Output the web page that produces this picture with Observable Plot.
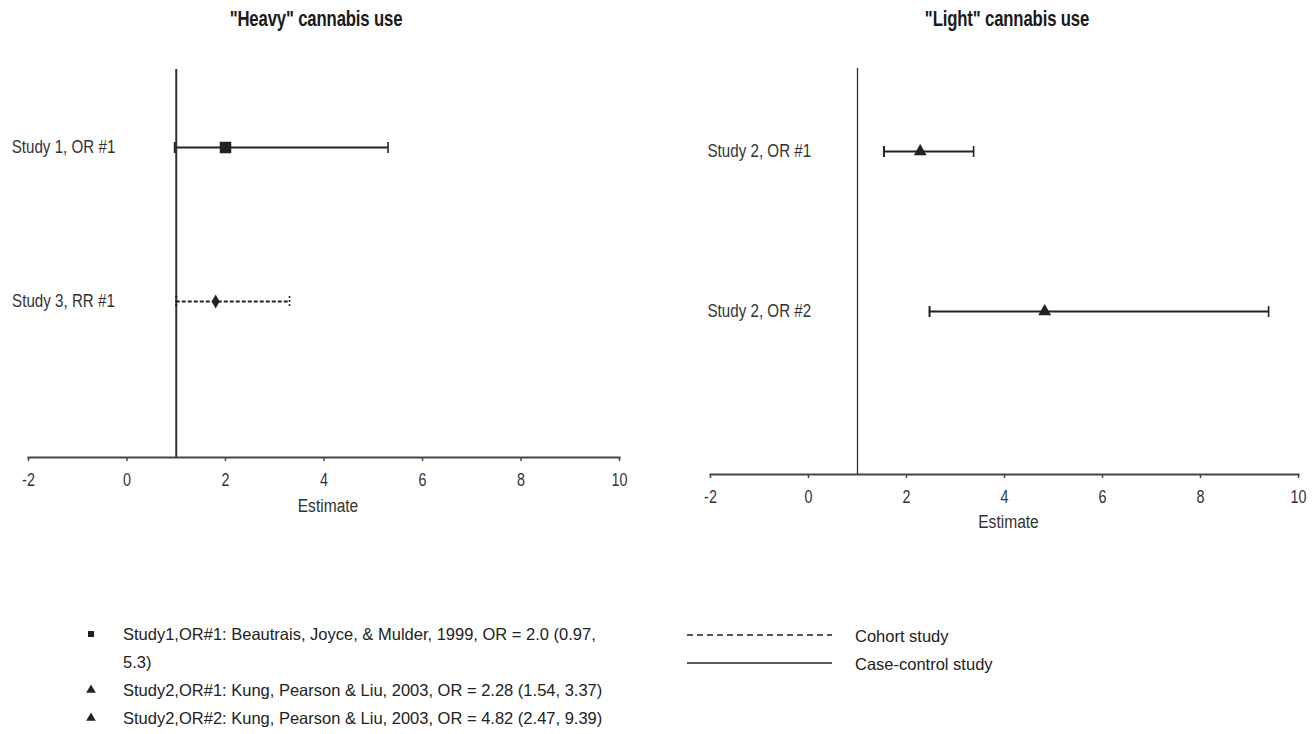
<!DOCTYPE html>
<html>
<head>
<meta charset="utf-8">
<script src="https://cdn.jsdelivr.net/npm/d3@7"></script>
<script src="https://cdn.jsdelivr.net/npm/@observablehq/plot@0.6"></script>
<style>
  html, body { margin: 0; padding: 0; background: #fff; }
  #root { position: relative; width: 1314px; height: 734px; overflow: hidden; font-family: "Liberation Sans", Arial, sans-serif; color: #222; }
  .title { font-family: "Liberation Sans", Arial, sans-serif; font-weight: bold; font-size: 22px; transform: translate(-50%, -50%) scaleX(0.76); white-space: nowrap; letter-spacing: -0.2px; color: #1a1a1a; }
  .leg { font-size: 16.5px; white-space: nowrap; transform: translateY(-50%); }
</style>
</head>
<body>
<div id="root"></div>
<script>
// ---------- data ----------
const heavyLabels = ["Study 1, OR #1", "Study 3, RR #1"];
const heavyEst    = [2.0, 1.8];
const heavyLo     = [0.97, 1.0];
const heavyHi     = [5.3, 3.3];
const heavyDesign = ["Case-control", "Cohort"];
const heavySymbol = ["square", "diamond"];

const lightLabels = ["Study 2, OR #1", "Study 2, OR #2"];
const lightEst    = [2.28, 4.82];
const lightLo     = [1.54, 2.47];
const lightHi     = [3.37, 9.39];
const lightDesign = ["Case-control", "Case-control"];
const lightSymbol = ["triangle", "triangle"];

const xTicks = [-2, 0, 2, 4, 6, 8, 10];
const xDomain = [-2, 10];
const nullValue = [1];

const legendLines = [
  ["square", "Study1,OR#1: Beautrais, Joyce, & Mulder, 1999, OR = 2.0 (0.97,"],
  [null, "5.3)"],
  ["triangle", "Study2,OR#1: Kung, Pearson & Liu, 2003, OR = 2.28 (1.54, 3.37)"],
  ["triangle", "Study2,OR#2: Kung, Pearson & Liu, 2003, OR = 4.82 (2.47, 9.39)"]
];
const designLegend = [["Cohort", "Cohort study"], ["Case-control", "Case-control study"]];

// ---------- helpers ----------
const ink = "#222";
const markerSize = { square: 6.5, diamond: 4.2, triangle: 4.8 };
const capSymbol = { draw(ctx, size) { const h = Math.sqrt(size / Math.PI); ctx.moveTo(0, -h); ctx.lineTo(0, h); } };
const tickStrings = new Set(xTicks.map(String));

function rows(labels, est, lo, hi, design, symbol) {
  return labels.map((label, i) => ({ label, est: est[i], lo: lo[i], hi: hi[i], design: design[i], symbol: symbol[i] }));
}

// emulate a narrow face: squeeze each SVG text horizontally around its anchor
function narrowText(svg, k) {
  svg.querySelectorAll("text").forEach(t => {
    if (tickStrings.has(t.textContent.trim())) t.style.fontSize = "17.5px";
    const tr = t.getAttribute("transform");
    if (tr) t.setAttribute("transform", tr + ` scale(${k},1)`);
    else {
      const x = parseFloat(t.getAttribute("x")) || 0;
      t.setAttribute("transform", `translate(${x},0) scale(${k},1) translate(${-x},0)`);
    }
  });
  return svg;
}

function forest(data, cfg) {
  const solid = data.filter(d => d.design !== "Cohort");
  const dashed = data.filter(d => d.design === "Cohort");
  const caps = (arr, dash) => [
    Plot.dot(arr, { x: "lo", y: "label", symbol: () => capSymbol, r: 5.5, fill: "none", stroke: ink, strokeWidth: 2, strokeDasharray: dash }),
    Plot.dot(arr, { x: "hi", y: "label", symbol: () => capSymbol, r: 5.5, fill: "none", stroke: ink, strokeWidth: 1.6, strokeDasharray: dash })
  ];
  const svg = Plot.plot({
    width: cfg.width, height: cfg.height,
    marginTop: cfg.mt, marginBottom: cfg.mb, marginLeft: cfg.ml, marginRight: cfg.mr,
    style: { fontFamily: `"Liberation Sans", Arial, sans-serif`, fontSize: "16px", color: ink, background: "transparent", overflow: "visible" },
    x: { domain: xDomain, ticks: xTicks, tickFormat: d => String(d), label: null },
    y: { type: "point", domain: data.map(d => d.label), padding: cfg.pad, align: cfg.align, axis: null },
    r: { type: "identity" },
    symbol: { type: "identity" },
    marks: [
      Plot.frame({ anchor: "bottom", stroke: "#444", strokeWidth: 2 }),
      Plot.axisX({ ticks: xTicks, tickFormat: d => String(d), tickSize: 4, tickPadding: 12, stroke: "#444", strokeWidth: 1.5, fill: "#333", label: null }),
      Plot.ruleX(nullValue, { stroke: "#333", strokeWidth: cfg.refWidth }),
      Plot.ruleY(solid, { y: "label", x1: "lo", x2: "hi", stroke: ink, strokeWidth: 2 }),
      Plot.ruleY(dashed, { y: "label", x1: "lo", x2: "hi", stroke: ink, strokeWidth: 2, strokeDasharray: "4,2" }),
      ...caps(solid, null),
      ...caps(dashed, "2,2"),
      Plot.dot(data, { x: "est", y: "label", symbol: "symbol", r: d => markerSize[d.symbol], fill: ink, stroke: "none" }),
      Plot.text(data, { y: "label", text: "label", frameAnchor: "left", textAnchor: cfg.labelAnchor, dx: cfg.labelDx, fontSize: 18.5, fill: "#333" }),
      Plot.text(["Estimate"], { text: d => d, frameAnchor: "bottom", dy: cfg.estDy, dx: 4, fontSize: 19, fill: "#333", lineAnchor: "middle" })
    ]
  });
  return narrowText(svg, 0.82);
}

// ---------- layout ----------
const root = document.getElementById("root");
function place(el, left, top) { el.style.position = "absolute"; el.style.left = left + "px"; el.style.top = top + "px"; root.appendChild(el); return el; }

place(forest(rows(heavyLabels, heavyEst, heavyLo, heavyHi, heavyDesign, heavySymbol),
  { width: 657, height: 530, mt: 69, mb: 73, ml: 28, mr: 38, pad: 0.752, align: 0.335, refWidth: 2, labelAnchor: "middle", labelDx: 35, estDy: 48 }), 0, 0);

place(forest(rows(lightLabels, lightEst, lightLo, lightHi, lightDesign, lightSymbol),
  { width: 657, height: 545, mt: 68, mb: 71, ml: 53, mr: 16, pad: 0.761, align: 0.339, refWidth: 1.3, labelAnchor: "start", labelDx: -3, estDy: 47 }), 657, 0);

function title(text, cx) {
  const d = document.createElement("div");
  d.className = "title"; d.textContent = text;
  place(d, cx, 19);
}
title('"Heavy" cannabis use', 316);
title('"Light" cannabis use', 1007);

// study legend (bottom-left)
const symPath = { square: d3.symbol(d3.symbolSquare, 36)(), triangle: d3.symbol(d3.symbolTriangle, 40)() };
legendLines.forEach(([sym, text], i) => {
  const y = 634 + i * 28;
  if (sym) {
    const s = document.createElementNS("http://www.w3.org/2000/svg", "svg");
    s.setAttribute("width", 14); s.setAttribute("height", 14);
    s.innerHTML = `<path transform="translate(7,7)" d="${symPath[sym]}" fill="${ink}"/>`;
    place(s, 84, y - 7);
  }
  const t = document.createElement("div");
  t.className = "leg"; t.textContent = text;
  place(t, 123, y);
});

// design legend (bottom-right)
designLegend.forEach(([design, text], i) => {
  const y = 635 + i * 28;
  const s = document.createElementNS("http://www.w3.org/2000/svg", "svg");
  s.setAttribute("width", 150); s.setAttribute("height", 6);
  s.innerHTML = `<line x1="2" x2="147" y1="3" y2="3" stroke="${ink}" stroke-width="1.3" ${design === "Cohort" ? 'stroke-dasharray="6,4"' : ""}/>`;
  place(s, 685, y - 3);
  const t = document.createElement("div");
  t.className = "leg"; t.textContent = text;
  place(t, 855, y + 1);
});
</script>
</body>
</html>
